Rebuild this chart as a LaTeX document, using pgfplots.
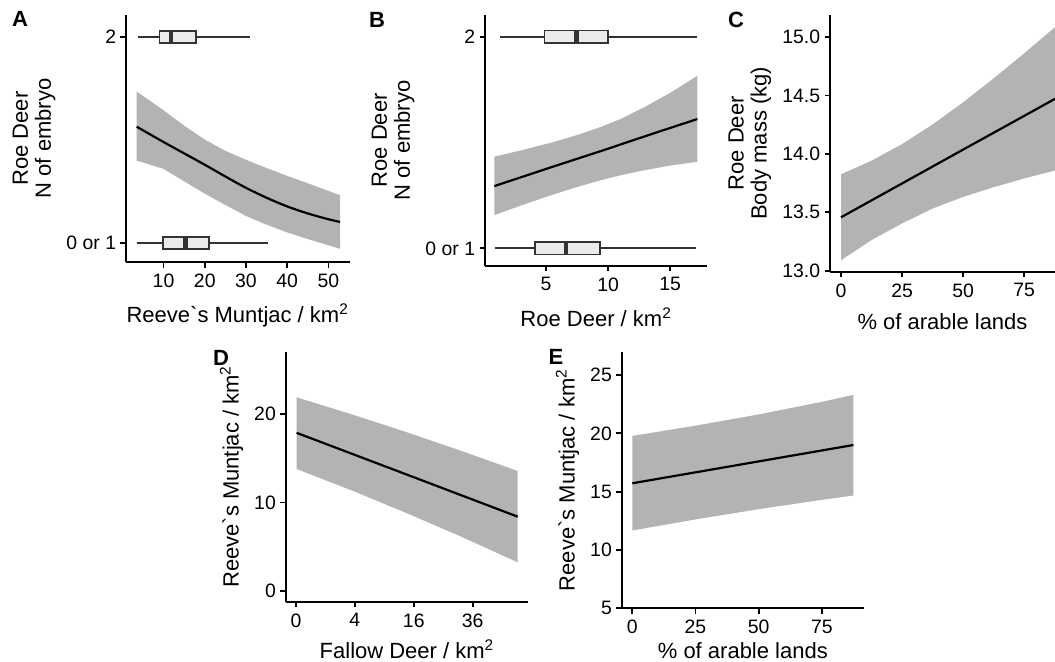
\documentclass[border=0pt]{standalone}
\usepackage{fontspec}
\setmainfont{Liberation Sans}
\usepackage{pgfplots}
\pgfplotsset{compat=1.18}

\definecolor{ribbon}{HTML}{B3B3B3}
\definecolor{boxfill}{HTML}{EBEBEB}
\definecolor{boxline}{HTML}{333333}

\newcommand\labfont{\fontsize{11bp}{11.5bp}\selectfont}
\newcommand\tickfont{\fontsize{9.7bp}{10bp}\selectfont}
\newcommand\tagfont{\fontsize{11bp}{11bp}\selectfont\bfseries}

\pgfplotsset{
  gg/.style={
    scale only axis,
    axis lines=left,
    axis line style={-, line width=0.9bp},
    tick style={black, line width=0.9bp},
    tick align=outside,
    major tick length=2.75bp,
    tick label style={font=\tickfont},
    xticklabel style={inner sep=3bp},
    yticklabel style={inner sep=2bp},
    label style={font=\labfont},
    xlabel style={yshift=-1.5bp},
    /pgf/number format/assume math mode=true,
  },
  lowrow/.style={xlabel style={yshift=#1}},
  fitline/.style={black, line width=1.1bp, smooth, mark=none},
  ci/.style={fill=ribbon, draw=none, mark=none},
  whisk/.style={boxline, line width=0.9bp, mark=none},
  boxrect/.style={draw=boxline, fill=boxfill, line width=0.9bp, mark=none},
  med/.style={boxline, line width=2.2bp, mark=none},
}

\begin{document}
\begin{tikzpicture}
\useasboundingbox (0,0) rectangle (527.5bp,-331bp);

% A: embryos vs muntjac density
\begin{axis}[gg, at={(63bp,-7.5bp)}, anchor=north west, width=111.75bp, height=123.5bp,
  xmin=0.9, xmax=55.1, ymin=0.909, ymax=2.105,
  xtick={10,20,30,40,50}, ytick={1,2}, yticklabels={0 or 1,2},
  xlabel={Reeve\textasciigrave s Muntjac / km\textsuperscript{2}},
  ylabel={Roe Deer\\N of embryo}, ylabel style={align=center}]
% confidence band: upper edge, then lower edge backwards
\addplot[ci] coordinates {(3.5,1.734) (10,1.644) (15,1.569) (20,1.502) (25,1.447) (30,1.404) (35,1.364) (40,1.326) (45,1.290) (50,1.253) (52.8,1.233)
  (52.8,0.973) (50,0.990) (45,1.020) (40,1.052) (35,1.090) (30,1.132) (25,1.185) (20,1.240) (15,1.300) (10,1.360) (3.5,1.400)} -- cycle;
\addplot[fitline] coordinates {(3.5,1.564) (10,1.490) (15,1.435) (20,1.380) (25,1.323) (30,1.268) (35,1.220) (40,1.178) (45,1.144) (50,1.116) (52.8,1.103)};
% box plots: N of embryo = 2
\addplot[whisk] coordinates {(3.8,2) (31.0,2)};
\addplot[boxrect] coordinates {(9.0,1.971) (17.9,1.971) (17.9,2.029) (9.0,2.029)} -- cycle;
\addplot[med] coordinates {(11.8,1.971) (11.8,2.029)};
% box plots: N of embryo = 0 or 1
\addplot[whisk] coordinates {(3.5,1) (35.3,1)};
\addplot[boxrect] coordinates {(9.8,0.971) (21.1,0.971) (21.1,1.029) (9.8,1.029)} -- cycle;
\addplot[med] coordinates {(15.3,0.971) (15.3,1.029)};
\end{axis}

% B: embryos vs roe deer density
\begin{axis}[gg, at={(242.5bp,-7.5bp)}, anchor=north west, width=111.15bp, height=125.35bp,
  xmin=0.08, xmax=18.0, ymin=0.918, ymax=2.1025,
  xtick={5,10,15}, ytick={1,2}, yticklabels={0 or 1,2},
  xlabel={Roe Deer / km\textsuperscript{2}},
  ylabel={Roe Deer\\N of embryo}, ylabel style={align=center}]
\addplot[ci] coordinates {(0.83,1.433) (3,1.463) (5.46,1.500) (7.5,1.535) (9.49,1.575) (11,1.611) (13,1.669) (15.1,1.738) (17.2,1.815)
  (17.2,1.409) (15.1,1.392) (13,1.370) (11,1.345) (9.49,1.323) (7.5,1.290) (5.46,1.252) (3,1.203) (0.83,1.157)} -- cycle;
\addplot[fitline] coordinates {(0.83,1.294) (5.46,1.384) (9.49,1.461) (13.0,1.530) (17.2,1.611)};
\addplot[whisk] coordinates {(1.29,2) (17.2,2)};
\addplot[boxrect] coordinates {(4.87,1.971) (9.97,1.971) (9.97,2.029) (4.87,2.029)} -- cycle;
\addplot[med] coordinates {(7.47,1.971) (7.47,2.029)};
\addplot[whisk] coordinates {(0.89,1) (17.07,1)};
\addplot[boxrect] coordinates {(4.11,0.971) (9.35,0.971) (9.35,1.029) (4.11,1.029)} -- cycle;
\addplot[med] coordinates {(6.59,0.971) (6.59,1.029)};
\end{axis}

% C: body mass vs arable land
\begin{axis}[gg, at={(415bp,-7.5bp)}, anchor=north west, width=112.5bp, height=128.35bp,
  xmin=-4.5, xmax=87.6, ymin=12.991, ymax=15.19,
  xtick={0,25,50,75}, ytick={13,13.5,14,14.5,15},
  yticklabel style={/pgf/number format/.cd, fixed, fixed zerofill, precision=1},
  xlabel={\% of arable lands},
  ylabel={Roe Deer\\Body mass (kg)}, ylabel style={align=center}]
\addplot[ci] coordinates {(0,13.825) (12.5,13.942) (25,14.084) (37.5,14.252) (50,14.442) (62.5,14.647) (75,14.862) (87.6,15.086)
  (87.6,13.858) (75,13.790) (62.5,13.715) (50,13.632) (37.5,13.532) (25,13.405) (12.5,13.262) (0,13.089)} -- cycle;
\addplot[fitline] coordinates {(0,13.457) (25,13.747) (50,14.037) (75,14.326) (87.6,14.472)};
\end{axis}

% D: muntjac vs fallow deer (x on square-root scale: values are sqrt of density)
\begin{axis}[gg, lowrow=2bp, at={(142.85bp,-175.85bp)}, anchor=north west, width=121.3bp, height=125bp,
  xmin=-0.35, xmax=7.89, ymin=-1.25, ymax=27.1,
  xtick={0,2,4,6}, xticklabels={0,4,16,36}, ytick={0,10,20},
  xlabel={Fallow Deer / km\textsuperscript{2}},
  ylabel={Reeve\textasciigrave s Muntjac / km\textsuperscript{2}}]
\addplot[ci] coordinates {(0.02,21.93) (1.9,19.99) (3.76,17.97) (5.6,15.87) (7.53,13.57)
  (7.53,3.22) (5.6,6.14) (3.76,8.79) (1.9,11.36) (0.02,13.80)} -- cycle;
\addplot[fitline] coordinates {(0.02,17.9) (3.76,13.17) (7.53,8.39)};
\end{axis}

% E: muntjac vs arable land
\begin{axis}[gg, lowrow=3.5bp, at={(310.85bp,-175.85bp)}, anchor=north west, width=121.15bp, height=128.3bp,
  xmin=-4.2, xmax=91.7, ymin=5, ymax=27.0,
  xtick={0,25,50,75}, ytick={5,10,15,20,25},
  xlabel={\% of arable lands},
  ylabel={Reeve\textasciigrave s Muntjac / km\textsuperscript{2}}]
\addplot[ci] coordinates {(0,19.78) (25,20.66) (50,21.62) (75,22.70) (87.5,23.30)
  (87.5,14.67) (75,14.30) (50,13.50) (25,12.62) (0,11.67)} -- cycle;
\addplot[fitline] coordinates {(0,15.72) (87.5,19.0)};
\end{axis}

\node[font=\tagfont] at (10bp,-9.5bp) {A};
\node[font=\tagfont] at (188.5bp,-10bp) {B};
\node[font=\tagfont] at (368bp,-10bp) {C};
\node[font=\tagfont] at (110.5bp,-179bp) {D};
\node[font=\tagfont] at (278bp,-178.5bp) {E};
\end{tikzpicture}
\end{document}
